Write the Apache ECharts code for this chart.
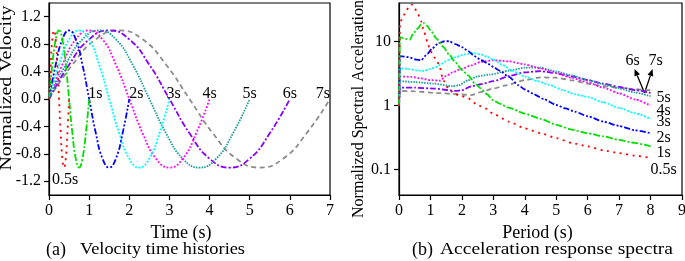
<!DOCTYPE html>
<html><head><meta charset="utf-8">
<script src="https://cdn.jsdelivr.net/npm/echarts@6/dist/echarts.min.js"></script>
<style>html,body{margin:0;padding:0;background:#fff}#c{width:685px;height:261px}</style>
</head><body><div id="c"></div>
<script>
// ---------- DATA ----------
const pulseLabels = ['0.5s','1s','2s','3s','4s','5s','6s','7s'];
const timeTicks = [0,1,2,3,4,5,6,7];
const velTicks = [-1.2,-0.8,-0.4,0.0,0.4,0.8,1.2];
const periodTicks = [0,1,2,3,4,5,6,7,8,9];
const saTicks = [0.1,1,10];

// velocity time histories (time s, normalized velocity)
const velT05 = [0,0.042,0.083,0.125,0.167,0.208,0.25,0.292,0.333,0.375,0.417,0.458,0.5];
const velT1  = [0,0.083,0.167,0.25,0.333,0.417,0.5,0.583,0.667,0.75,0.833,0.917,1];
const velT2  = [0,0.167,0.333,0.5,0.667,0.833,1,1.167,1.333,1.5,1.667,1.833,2];
const velT3  = [0,0.25,0.5,0.75,1,1.25,1.5,1.75,2,2.25,2.5,2.75,3];
const velT4  = [0,0.333,0.667,1,1.333,1.667,2,2.333,2.667,3,3.333,3.667,4];
const velT5  = [0,0.417,0.833,1.25,1.667,2.083,2.5,2.917,3.333,3.75,4.167,4.583,5];
const velT6  = [0,0.5,1,1.5,2,2.5,3,3.5,4,4.5,5,5.5,6];
const velT7  = [0,0.583,1.167,1.75,2.333,2.917,3.5,4.083,4.667,5.25,5.833,6.417,7];
const velV05 = [0,0.5,0.87,1,0.87,0.5,0,-0.5,-0.87,-1,-0.87,-0.5,0];
const velV1  = [0,0.5,0.87,1,0.87,0.5,0,-0.5,-0.87,-1,-0.87,-0.5,0];
const velV2  = [0,0.5,0.87,1,0.87,0.5,0,-0.5,-0.87,-1,-0.87,-0.5,0];
const velV3  = [0,0.5,0.87,1,0.87,0.5,0,-0.5,-0.87,-1,-0.87,-0.5,0];
const velV4  = [0,0.5,0.87,1,0.87,0.5,0,-0.5,-0.87,-1,-0.87,-0.5,0];
const velV5  = [0,0.5,0.87,1,0.87,0.5,0,-0.5,-0.87,-1,-0.87,-0.5,0];
const velV6  = [0,0.5,0.87,1,0.87,0.5,0,-0.5,-0.87,-1,-0.87,-0.5,0];
const velV7  = [0,0.5,0.87,1,0.87,0.5,0,-0.5,-0.87,-1,-0.87,-0.5,0];

// acceleration response spectra (period s, normalized SA)
const perP05 = [0,0.03,0.1,0.2,0.3,0.4,0.5,0.6,0.7,0.8,0.9,1.0,1.2,1.3,1.4,1.6,1.8,2.0,2.2,2.5,2.75,3.0,3.5,4.0,4.5,5.0,5.5,6.0,6.5,7.0,7.5,8.0];
const saP05  = [1,19,23,28,34,38,33,27,21,14,10,7,5.1,3.9,2.5,1.75,1.5,1.4,1.3,1.02,0.9,0.74,0.56,0.44,0.37,0.31,0.26,0.23,0.2,0.18,0.165,0.152];
const perP1  = [0,0.03,0.2,0.35,0.45,0.6,0.7,0.8,0.9,1.0,1.2,1.4,1.6,1.8,2.0,2.2,2.4,2.6,2.8,3.0,3.2,3.5,4.0,4.5,5.0,5.5,6.0,6.5,7.0,7.5,8.0];
const saP1   = [1,11.7,11,10.7,13.4,16,18.5,19.4,17.5,15,11,8.3,6.2,4.7,3.6,2.95,2.25,1.85,1.5,1.2,1.07,0.92,0.75,0.62,0.5,0.42,0.37,0.33,0.29,0.26,0.23];
const perP2  = [0,0.03,0.3,0.55,0.7,0.9,1.05,1.25,1.45,1.6,1.8,2.0,2.2,2.4,2.6,2.8,3.0,3.2,3.5,3.8,4.0,4.3,4.6,5.0,5.3,5.6,6.0,6.5,7.0,7.5,8.0];
const saP2   = [1,5.9,5.7,5.2,5.1,6.4,7.7,9.4,10.1,10.1,9.1,8.2,7.1,5.9,5.2,4.6,4.0,3.5,2.8,2.07,1.78,1.5,1.26,1.02,0.9,0.8,0.68,0.56,0.48,0.41,0.37];
const perP3  = [0,0.03,0.3,0.55,0.8,0.95,1.2,1.35,1.55,1.8,2.1,2.35,2.6,2.8,3.0,3.3,3.6,4.0,4.4,4.8,5.2,5.6,6.0,6.5,7.0,7.5,8.0];
const saP3   = [1,3.8,3.75,3.55,3.45,3.7,4.0,4.5,5.1,5.7,6.3,6.6,6.3,5.8,5.2,4.3,3.5,2.85,2.4,2.1,1.75,1.5,1.36,1.12,0.92,0.76,0.62];
const perP4  = [0,0.03,0.4,0.7,1.0,1.3,1.5,1.7,2.0,2.3,2.6,3.0,3.5,4.0,4.5,5.0,5.5,6.0,6.5,7.0,7.5,8.0];
const saP4   = [1,2.85,2.8,2.65,2.5,2.45,2.9,3.3,3.75,4.25,4.8,5.1,4.9,4.4,3.8,3.2,2.7,2.3,1.9,1.55,1.25,1.0];
const perP5  = [0,0.03,0.5,1.1,1.7,1.9,2.2,2.5,2.9,3.5,4.0,4.5,5.0,5.5,6.0,6.5,7.0,7.5,8.0];
const saP5   = [1,2.4,2.33,2.2,2.0,2.07,2.48,2.86,3.05,3.5,3.9,3.9,3.4,2.95,2.5,2.15,1.85,1.6,1.4];
const perP6  = [0,0.03,0.5,1.1,1.8,2.0,2.3,2.6,3.0,3.5,4.0,4.5,5.0,5.5,6.0,6.5,7.0,7.5,8.0];
const saP6   = [1,1.9,1.9,1.84,1.69,1.73,2.0,2.15,2.4,2.9,3.3,3.45,3.2,2.85,2.5,2.2,1.95,1.75,1.57];
const perP7  = [0,0.03,0.5,1.2,1.9,2.3,2.6,3.0,3.4,4.0,4.5,5.0,5.5,6.0,6.5,7.0,7.5,8.0];
const saP7   = [1,1.69,1.67,1.57,1.5,1.45,1.62,1.84,2.07,2.5,2.75,2.72,2.48,2.2,2.0,1.9,1.8,1.72];

// ---------- STYLE ----------
const serif = 'Liberation Serif';
const colors = ['#ff0000','#00e000','#0000ff','#00ffff','#ff00ff','#1a9a9a','#8800ff','#8c8c8c'];
const dashes = [[2,4.5],[7,2,2,2],[6,2,2,2,2,2],[2,1.5],[1.8,1.8],[1.5,1.2],[6,2,2,2],[5,3.5]];
const velTimes = [velT05,velT1,velT2,velT3,velT4,velT5,velT6,velT7];
const velVals = [velV05,velV1,velV2,velV3,velV4,velV5,velV6,velV7];
const perArr = [perP05,perP1,perP2,perP3,perP4,perP5,perP6,perP7];
const saArr = [saP05,saP1,saP2,saP3,saP4,saP5,saP6,saP7];

// label placement (styling only)
const velLabelStyle = [
  {pos:'bottom', align:'center', dist:4, at:'min', off:[1,0]},
  {pos:'top', align:'left', dist:-3, at:'end', off:[-1,0]},
  {pos:'top', align:'left', dist:-3, at:'end', off:[0,0]},
  {pos:'top', align:'left', dist:-3, at:'end', off:[-3,0]},
  {pos:'top', align:'center', dist:-3, at:'end', off:[0,0]},
  {pos:'top', align:'center', dist:-3, at:'end', off:[0,0]},
  {pos:'top', align:'center', dist:-3, at:'end', off:[0,0]},
  {pos:'top', align:'right', dist:-3, at:'end', off:[0,0]}
];
const saLabelOff = [[-5,12],[1,6.5],[1,5],[1,3],[1,5],[1,2]];

const series = [];
for (let k = 0; k < 8; k++) {
  const t = velTimes[k], v = velVals[k];
  const st = velLabelStyle[k];
  let idx = t.length - 1;
  if (st.at === 'min') { idx = v.indexOf(Math.min.apply(null, v)); }
  series.push({
    type:'line', xAxisIndex:0, yAxisIndex:0, smooth:true, showSymbol:false, silent:true,
    data: t.map((x,i)=>[x, v[i]]),
    lineStyle:{color:colors[k], width:1.8, type:dashes[k], cap:'butt'},
    z: 10-k,
    markPoint:{symbol:'circle', symbolSize:0, silent:true, data:[{coord:[t[idx], v[idx]],
      label:{show:true, formatter:pulseLabels[k], position:st.pos, align:st.align, distance:st.dist,
      offset:st.off||[0,0], color:'#000', fontFamily:serif, fontSize:16}}]}
  });
}
for (let k = 0; k < 8; k++) {
  const p = perArr[k], s = saArr[k];
  const last = p.length - 1;
  const item = {
    type:'line', xAxisIndex:1, yAxisIndex:1, smooth:0.2, smoothMonotone:'x', showSymbol:false, silent:true,
    data: p.map((x,i)=>[x, s[i]]),
    lineStyle:{color:colors[k], width:1.8, type:dashes[k], cap:'butt'},
    z: 10-k
  };
  if (k < 6) {
    item.markPoint = {symbol:'circle', symbolSize:0, silent:true, data:[{coord:[p[last], s[last]],
      label:{show:true, formatter:pulseLabels[k], position:'right', distance:5, offset:saLabelOff[k],
      color:'#000', fontFamily:serif, fontSize:16}}]};
  }
  series.push(item);
}

const axisCommon = {
  axisLine:{show:true, onZero:false, lineStyle:{color:'#000', width:1.2}},
  axisTick:{show:true, inside:false, length:5, lineStyle:{color:'#000', width:1.2}},
  splitLine:{show:false}
};
const labelCommon = {color:'#000', fontFamily:serif, fontSize:16};

const option = {
  animation:false,
  backgroundColor:'#fff',
  grid:[
    {left:49, top:3, width:281, height:192, show:true, borderColor:'#000', borderWidth:1.2, containLabel:false, outerBoundsMode:'none'},
    {left:399, top:3, width:283, height:192, show:true, borderColor:'#000', borderWidth:1.2, containLabel:false, outerBoundsMode:'none'}
  ],
  xAxis:[
    Object.assign({}, axisCommon, {type:'value', gridIndex:0, min:timeTicks[0], max:timeTicks[timeTicks.length-1], interval:1,
      name:'Time (s)', nameLocation:'middle', nameGap:22,
      nameTextStyle:{color:'#000', fontFamily:serif, fontSize:18, padding:[0,17,0,0]},
      axisLabel:Object.assign({}, labelCommon, {margin:8})}),
    Object.assign({}, axisCommon, {type:'value', gridIndex:1, min:periodTicks[0], max:periodTicks[periodTicks.length-1], interval:1,
      name:'Period (s)', nameLocation:'middle', nameGap:22,
      nameTextStyle:{color:'#000', fontFamily:serif, fontSize:18, padding:[0,6,0,0]},
      axisLabel:Object.assign({}, labelCommon, {margin:8})})
  ],
  yAxis:[
    Object.assign({}, axisCommon, {type:'value', gridIndex:0, min:-1.4, max:1.4,
      axisTick:{show:true, length:5, customValues:velTicks, lineStyle:{color:'#000', width:1.2}},
      axisLabel:Object.assign({}, labelCommon, {margin:8, customValues:velTicks, formatter:(v)=>v.toFixed(1)})}),
    Object.assign({}, axisCommon, {type:'log', gridIndex:1, min:0.04, max:40, logBase:10,
      axisTick:{show:true, length:5, customValues:saTicks, lineStyle:{color:'#000', width:1.2}},
      axisLabel:Object.assign({}, labelCommon, {margin:8, customValues:saTicks, formatter:(v)=>String(v)})})
  ],
  series: series
};

const chart = echarts.init(document.getElementById('c'), null, {renderer:'canvas'});
chart.setOption(option);

// captions, rotated axis titles and 6s/7s arrows
const cv = document.createElement('canvas').getContext('2d');
function scaleFor(text, size, target){ cv.font = size+'px "'+serif+'"'; return target / cv.measureText(text).width; }
const g = [];
function caption(letter, body, xL, xB, target){
  g.push({type:'text', x:xL, y:250, style:{text:letter, font:'18px "'+serif+'"', fill:'#000', verticalAlign:'middle'}});
  g.push({type:'text', x:xB, y:250, scaleX:scaleFor(body,16,target), style:{text:body, font:'16px "'+serif+'"', fill:'#000', verticalAlign:'middle'}});
}
caption('(a)', 'Velocity time histories', 46, 80, 165);
caption('(b)', 'Acceleration response spectra', 412, 440, 233);
function yTitle(text, cx, cy, len){
  g.push({type:'text', x:cx, y:cy, rotation:Math.PI/2, scaleX:scaleFor(text,16.5,len),
    style:{text:text, font:'16.5px "'+serif+'"', fill:'#000', align:'center', verticalAlign:'middle'}});
}
yTitle('Normalized Velocity', 7, 88, 165);
yTitle('Normalized Spectral Acceleration', 359, 109, 218);

const end6 = chart.convertToPixel({gridIndex:1}, [perP6[perP6.length-1], saP6[saP6.length-1]]);
const base = [end6[0]-6, end6[1]];
function arrow(dx, dy, label){
  const tip = [base[0]+dx, base[1]+dy];
  const ang = Math.atan2(tip[1]-base[1], tip[0]-base[0]);
  const L = 7, W = 3;
  const bx = tip[0]-L*Math.cos(ang), by = tip[1]-L*Math.sin(ang);
  const nx = -Math.sin(ang)*W, ny = Math.cos(ang)*W;
  g.push({type:'line', shape:{x1:base[0], y1:base[1], x2:bx, y2:by}, style:{stroke:'#000', lineWidth:1.3}});
  g.push({type:'polygon', shape:{points:[tip,[bx+nx,by+ny],[bx-nx,by-ny]]}, style:{fill:'#000'}});
  g.push({type:'text', x:tip[0]+(dx<0?-2:3), y:tip[1]-8, style:{text:label, font:'16px "'+serif+'"', fill:'#000', align:'center', verticalAlign:'middle'}});
}
arrow(-10, -24, pulseLabels[6]);
arrow(8, -24, pulseLabels[7]);
chart.setOption({graphic:g});
</script>
</body></html>
